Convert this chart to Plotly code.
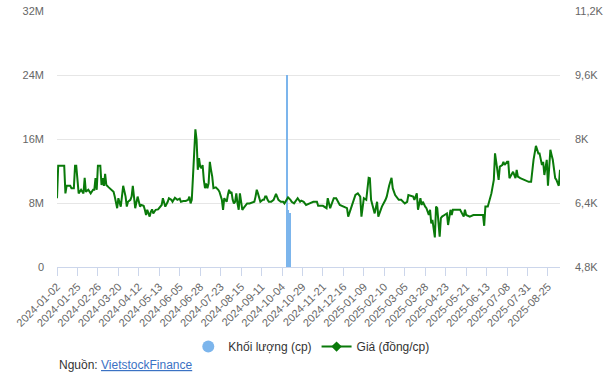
import plotly.graph_objects as go

# ---- data ----
tick_labels = ["2024-01-02", "2024-01-25", "2024-02-26", "2024-03-20", "2024-04-12",
               "2024-05-13", "2024-06-05", "2024-06-28", "2024-07-23", "2024-08-15",
               "2024-09-11", "2024-10-04", "2024-10-29", "2024-11-21", "2024-12-16",
               "2025-01-09", "2025-02-10", "2025-03-05", "2025-03-28", "2025-04-23",
               "2025-05-21", "2025-06-13", "2025-07-08", "2025-07-31", "2025-08-25"]
tick_step = 17          # trading days between labelled ticks
n_days = 419            # trading sessions shown

# trading-day index -> price (đồng/cp)
price_idx = [0, 1, 6, 7, 8, 11, 12, 14, 15, 16, 18, 20, 22, 23, 24, 26, 28, 30, 31, 32,
             33, 34, 36, 37, 38, 39, 40, 41, 43, 45, 47, 48, 50, 51, 52, 53, 55, 57, 58, 59,
             61, 62, 63, 65, 67, 69, 70, 72, 73, 74, 75, 77, 78, 79, 80, 82, 84, 85, 87, 88,
             89, 90, 92, 93, 95, 96, 98, 100, 102, 103, 105, 107, 109, 110, 111, 112, 113, 114, 115, 116,
             117, 118, 119, 120, 121, 122, 123, 124, 125, 126, 127, 128, 129, 130, 132, 134, 135, 137, 138, 139,
             140, 141, 142, 143, 144, 145, 146, 147, 148, 149, 150, 151, 152, 153, 154, 155, 157, 158, 160, 162,
             164, 165, 166, 167, 168, 169, 171, 172, 173, 174, 175, 176, 178, 180, 182, 183, 184, 186, 188, 189,
             191, 192, 194, 195, 197, 199, 200, 202, 203, 205, 207, 210, 213, 216, 217, 221, 224, 225, 227, 230,
             232, 235, 238, 241, 242, 245, 248, 250, 252, 253, 255, 257, 259, 260, 261, 264, 266, 267, 268, 270,
             273, 274, 276, 278, 279, 281, 284, 286, 289, 291, 292, 295, 296, 297, 299, 300, 302, 303, 304, 306,
             307, 309, 310, 311, 312, 314, 315, 316, 318, 319, 320, 322, 324, 325, 327, 328, 329, 332, 335, 338,
             339, 340, 343, 346, 354, 355, 356, 358, 360, 361, 363, 364, 365, 367, 368, 370, 371, 372, 374, 375,
             376, 379, 381, 382, 383, 385, 392, 394, 396, 398, 400, 401, 403, 404, 405, 407, 408, 410, 411, 412,
             414, 415, 417, 418]
price_val = [6520, 7330, 7330, 6640, 6830, 6830, 6770, 6770, 7330, 7330, 6640, 6730, 6640, 7030, 6680, 6730, 6640, 6730, 6730, 7020,
             6730, 7330, 7330, 6850, 7020, 6830, 7130, 6850, 6790, 6730, 6680, 6560, 6270, 6520, 6390, 6310, 6830, 6560, 6310, 6430,
             6480, 6560, 6830, 6270, 6560, 6310, 6350, 6330, 6230, 6100, 6230, 6060, 6180, 6240, 6140, 6230, 6240, 6270, 6350, 6520,
             6390, 6310, 6430, 6520, 6480, 6430, 6530, 6480, 6510, 6430, 6450, 6450, 6480, 6560, 6390, 6480, 7060, 7640, 8240, 7980,
             7230, 7520, 7310, 7270, 7350, 6980, 6770, 6890, 6770, 6890, 7430, 7230, 7060, 6770, 6790, 6730, 6680, 6480, 6230, 6520,
             6480, 6430, 6600, 6730, 6640, 6680, 6480, 6390, 6430, 6640, 6390, 6230, 6640, 6480, 6230, 6270, 6350, 6390, 6390, 6410,
             6430, 6560, 6730, 6640, 6520, 6430, 6480, 6480, 6560, 6560, 6480, 6430, 6430, 6480, 6630, 6560, 6480, 6430, 6430, 6390,
             6480, 6540, 6480, 6430, 6390, 6490, 6520, 6430, 6460, 6430, 6350, 6390, 6430, 6430, 6330, 6330, 6270, 6520, 6270, 6520,
             6520, 6350, 6310, 6270, 6060, 6310, 6600, 6640, 6560, 6060, 6520, 6480, 7030, 7020, 6480, 6140, 6430, 6060, 6140, 6310,
             6480, 6560, 6830, 7030, 6770, 6600, 6480, 6480, 6390, 6430, 6600, 6560, 6560, 6480, 6640, 6230, 6520, 6350, 6430, 6310,
             6270, 6100, 6230, 5890, 5980, 5540, 6310, 6270, 5560, 6020, 6060, 6100, 6140, 5850, 6230, 6100, 6230, 6230, 6230, 6060,
             6230, 6100, 6060, 6100, 6100, 5830, 6310, 6310, 6560, 6640, 6980, 7640, 7430, 6980, 7310, 7350, 7430, 7350, 7430, 7430,
             7020, 7180, 7020, 7230, 7060, 7020, 6930, 6930, 7480, 7830, 7640, 7640, 7350, 7430, 7100, 7480, 6830, 7730, 7600, 7480,
             7020, 6980, 6830, 7230]

# trading-day index -> volume (cp); all other sessions are too small to see
vol_idx = [191, 192, 194]
vol_val = [24000000, 7100000, 6800000]

left_ticks = [0, 8e6, 16e6, 24e6, 32e6]
left_text = ["0", "8M", "16M", "24M", "32M"]
right_ticks = [4800, 6400, 8000, 9600, 11200]
right_text = ["4,8K", "6,4K", "8K", "9,6K", "11,2K"]

vol_color = "#7cb5ec"
price_color = "#0a7a0a"
font_family = "Liberation Sans, Arial, sans-serif"

fig = go.Figure()
fig.add_trace(go.Bar(x=vol_idx, y=vol_val, marker=dict(color=vol_color, line_width=0),
                     width=0.8, yaxis="y", showlegend=False, name="Khối lượng (cp)"))
fig.add_trace(go.Scatter(x=price_idx, y=price_val, mode="lines", yaxis="y2",
                         line=dict(color=price_color, width=2), showlegend=False,
                         name="Giá (đồng/cp)"))
# legend entries
fig.add_trace(go.Scatter(x=[None], y=[None], mode="markers", name="Khối lượng (cp)",
                         marker=dict(symbol="circle", size=12, color=vol_color)))
fig.add_trace(go.Scatter(x=[None], y=[None], mode="lines+markers", name="Giá (đồng/cp)",
                         yaxis="y2", line=dict(color=price_color, width=2),
                         marker=dict(symbol="diamond", size=8, color=price_color)))

fig.update_layout(
    width=611, height=387,
    margin=dict(l=57, r=51, t=11, b=120, autoexpand=False),
    paper_bgcolor="white", plot_bgcolor="white",
    font=dict(family=font_family, color="#666666", size=11),
    bargap=0,
    hovermode=False,
    xaxis=dict(range=[0, n_days - 1], tickmode="array",
               tickvals=[i * tick_step for i in range(len(tick_labels))],
               ticktext=tick_labels, tickangle=-45, showgrid=False, zeroline=False,
               showline=True, linecolor="#ccd6eb", linewidth=1, automargin=False,
               ticks="outside", ticklen=8, tickcolor="#ccd6eb",
               ticklabeloverflow="allow",
               tickfont=dict(size=11, color="#666666")),
    yaxis=dict(range=[0, 32e6], tickmode="array", tickvals=left_ticks, ticktext=left_text,
               showgrid=True, gridcolor="#e6e6e6", zeroline=False, showline=False,
               automargin=False, ticklabeloverflow="allow",
               ticks="", ticklabelstandoff=12, tickfont=dict(size=11, color="#666666")),
    yaxis2=dict(range=[4800, 11200], tickmode="array", tickvals=right_ticks, ticktext=right_text,
                overlaying="y", side="right", showgrid=False, zeroline=False, showline=False,
                automargin=False, ticklabeloverflow="allow",
                ticks="", ticklabelstandoff=14, tickfont=dict(size=11, color="#666666")),
    legend=dict(orientation="h", x=0.261, xanchor="left", y=-0.311, yanchor="middle",
                font=dict(size=12, color="#333333"), bgcolor="rgba(0,0,0,0)",
                itemwidth=30),
    annotations=[dict(xref="paper", yref="paper", x=0, y=-0.383, xanchor="left",
                      yanchor="middle", showarrow=False,
                      text="Nguồn: <span style='color:#3b72c4'><u>VietstockFinance</u></span>",
                      font=dict(size=12, color="#333333", family=font_family))],
)

# remove the browser's default 8px page margin so the figure sits at the window's corner
fig.write_html("out.html", config={"displayModeBar": False},
               post_script="document.body.style.margin='0';")
